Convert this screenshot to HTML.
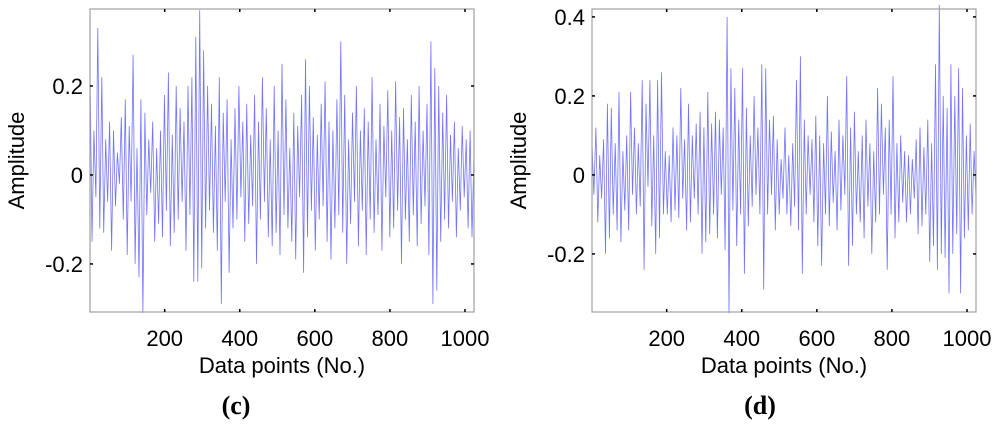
<!DOCTYPE html>
<html><head><meta charset="utf-8">
<style>
body{margin:0;background:#fff;width:1000px;height:425px;overflow:hidden}
svg text{font-family:"Liberation Sans",Arial,sans-serif;fill:#000}
</style></head><body>
<svg id="fig" width="1000" height="425" viewBox="0 0 1000 425"></svg>
<script>
const xTicks = [200, 400, 600, 800, 1000];
const yTicksC = [0.2, 0, -0.2];
const yTicksD = [0.4, 0.2, 0, -0.2];
const seriesC = [0.24,-0.15,0.1,-0.05,0.33,-0.12,0.22,-0.13,0.08,-0.06,0.12,-0.17,0.1,-0.07,0.05,-0.02,0.13,-0.1,0.17,-0.18,0.11,-0.06,0.27,-0.2,0.06,-0.23,0.17,-0.31,0.14,-0.09,0.08,-0.04,0.12,-0.15,0.06,-0.11,0.1,-0.14,0.18,-0.08,0.23,-0.16,0.09,-0.13,0.2,-0.1,0.15,-0.06,0.12,-0.17,0.2,-0.09,0.22,-0.24,0.31,-0.24,0.37,-0.21,0.28,-0.12,0.2,-0.08,0.16,-0.13,0.11,-0.17,0.22,-0.29,0.14,-0.06,0.17,-0.22,0.08,-0.12,0.15,-0.1,0.2,-0.05,0.12,-0.15,0.16,-0.11,0.09,-0.07,0.18,-0.2,0.12,-0.1,0.22,-0.06,0.15,-0.14,0.08,-0.16,0.2,-0.13,0.1,-0.18,0.25,-0.09,0.17,-0.12,0.06,-0.15,0.14,-0.19,0.11,-0.05,0.18,-0.22,0.26,-0.14,0.2,-0.08,0.13,-0.17,0.09,-0.1,0.16,-0.07,0.21,-0.15,0.12,-0.19,0.1,-0.12,0.17,-0.09,0.3,-0.13,0.18,-0.2,0.08,-0.11,0.14,-0.06,0.2,-0.16,0.1,-0.08,0.15,-0.18,0.12,-0.1,0.22,-0.13,0.08,-0.09,0.16,-0.17,0.11,-0.05,0.19,-0.14,0.1,-0.12,0.21,-0.08,0.13,-0.2,0.15,-0.1,0.08,-0.15,0.18,-0.09,0.12,-0.16,0.2,-0.11,0.1,-0.07,0.16,-0.18,0.3,-0.29,0.24,-0.26,0.2,-0.15,0.14,-0.1,0.18,-0.12,0.09,-0.06,0.12,-0.14,0.06,-0.08,0.11,-0.05,0.08,-0.12,0.1,-0.14,0.05];
const seriesD = [0.08,-0.05,0.12,-0.12,0.05,-0.06,0.09,-0.2,0.18,-0.16,0.17,-0.1,0.08,-0.14,0.21,-0.17,0.06,-0.09,0.1,-0.14,0.21,-0.05,0.12,-0.1,0.08,-0.08,0.24,-0.24,0.18,-0.03,0.24,-0.13,0.1,-0.2,0.24,-0.16,0.26,-0.1,0.06,-0.1,0.05,-0.12,0.12,-0.09,0.1,-0.11,0.22,-0.06,0.09,-0.14,0.18,-0.12,0.1,-0.06,0.13,-0.1,0.16,-0.2,0.12,-0.17,0.21,-0.15,0.13,-0.1,0.16,-0.16,0.14,-0.05,0.12,-0.19,0.4,-0.35,0.27,-0.09,0.22,-0.18,0.14,-0.1,0.27,-0.25,0.17,-0.13,0.1,-0.08,0.2,-0.05,0.12,-0.1,0.28,-0.29,0.27,-0.1,0.14,-0.05,0.15,-0.14,0.09,-0.1,0.04,-0.06,0.12,-0.1,0.05,-0.13,0.08,-0.08,0.24,-0.14,0.3,-0.25,0.14,-0.1,0.1,-0.05,0.09,-0.12,0.15,-0.18,0.1,-0.23,0.08,-0.1,0.2,-0.13,0.11,-0.07,0.06,-0.14,0.14,-0.09,0.1,-0.05,0.25,-0.23,0.12,-0.18,0.16,-0.1,0.06,-0.12,0.1,-0.16,0.14,-0.08,0.08,-0.2,0.06,-0.12,0.22,-0.1,0.18,-0.05,0.12,-0.24,0.14,-0.1,0.25,-0.16,0.08,-0.12,0.1,-0.07,0.06,-0.12,0.05,-0.1,0.04,-0.06,0.09,-0.15,0.12,-0.13,0.07,-0.1,0.14,-0.22,0.08,-0.18,0.28,-0.24,0.43,-0.2,0.2,-0.21,0.17,-0.3,0.28,-0.2,0.2,-0.15,0.27,-0.3,0.22,-0.16,0.1,-0.14,0.13,-0.1,0.06,-0.06];

const NS='http://www.w3.org/2000/svg';
const svg=document.getElementById('fig');
function mk(tag,attrs,parent){const e=document.createElementNS(NS,tag);for(const k in attrs)e.setAttribute(k,attrs[k]);(parent||svg).appendChild(e);return e;}

function drawPanel(p){
  const g=mk('g',{});
  
  
  const xs=v=>p.x0+(v-1)/(1023)*(p.x1-p.x0);
  const ys=v=>p.y0+(p.ymax-v)/(p.ymax-p.ymin)*(p.y1-p.y0);
  const step=1023/(p.data.length-1);
  let d='';
  p.data.forEach((v,i)=>{d+=(i?'L':'M')+xs(1+i*step).toFixed(1)+' '+ys(v).toFixed(1);});
  const line=mk('path',{d:d,fill:'none',stroke:'#5a5aff','stroke-width':0.8,'stroke-opacity':0.85},g);
  
  
  const fr=mk('rect',{x:p.x0,y:p.y0,width:p.x1-p.x0,height:p.y1-p.y0,fill:'none',stroke:'#a0a0a0','stroke-width':1.2},g);
  
  
  xTicks.forEach(t=>{
    const x=xs(t);
    mk('line',{x1:x,x2:x,y1:p.y1,y2:p.y1-3,stroke:'#000','stroke-width':1.5},g);
    mk('line',{x1:x,x2:x,y1:p.y0,y2:p.y0+3,stroke:'#000','stroke-width':1.5},g);
    const tx=mk('text',{x:x,y:p.y1+34,'font-size':22,'text-anchor':'middle'},g);
    tx.textContent=t;
    
    
  });
  p.yt.forEach(t=>{
    const y=ys(t);
    mk('line',{x1:p.x0,x2:p.x0+3,y1:y,y2:y,stroke:'#000','stroke-width':1.5},g);
    mk('line',{x1:p.x1,x2:p.x1-3,y1:y,y2:y,stroke:'#000','stroke-width':1.5},g);
    const tx=mk('text',{x:p.x0-7,y:y+8,'font-size':22,'text-anchor':'end'},g);
    tx.textContent=t;
    
    
  });
  const xl=mk('text',{x:(p.x0+p.x1)/2,y:373,'font-size':22,'text-anchor':'middle'},g);
  xl.textContent='Data points (No.)';
  
  
  const yl=mk('text',{x:0,y:0,'font-size':22,'text-anchor':'middle',transform:`translate(${p.x0-66},${(p.y0+p.y1)/2}) rotate(-90)`},g);
  yl.textContent='Amplitude';
  
  
  const cap=mk('text',{x:p.capX,y:414,'font-size':26,'font-weight':'bold','text-anchor':'middle',style:'font-family:"Liberation Serif",serif'},g);
  cap.textContent=p.cap;
  
  
}
drawPanel({name:'panel-c',x0:90,x1:474,y0:9,y1:312,ymax:0.373,ymin:-0.308,data:seriesC,yt:yTicksC,cap:'(c)',capX:236});
drawPanel({name:'panel-d',x0:592,x1:976,y0:9,y1:312,ymax:0.42,ymin:-0.347,data:seriesD,yt:yTicksD,cap:'(d)',capX:760});
</script>
</body></html>
